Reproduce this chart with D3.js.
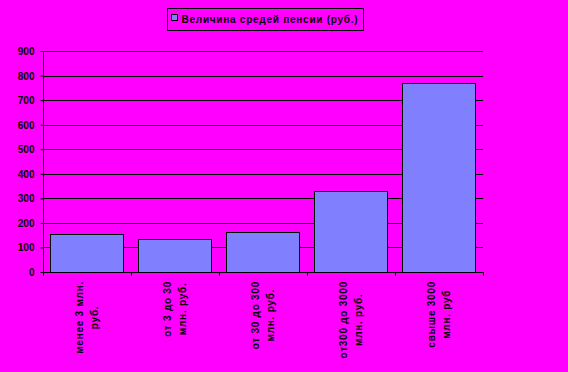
<!DOCTYPE html>
<html>
<head>
<meta charset="utf-8">
<script src="https://cdn.jsdelivr.net/npm/d3@7"></script>
<style>
  html, body { margin: 0; padding: 0; background: #ff00ff; }
  svg { display: block; }
  text { font-family: "Liberation Sans", Arial, sans-serif; font-size: 10px; font-weight: bold; fill: #000; }
  .wide { letter-spacing: 0.75px; }
</style>
</head>
<body>
<svg id="chart" width="568" height="372"></svg>
<script>
const categories = [
  ["менее 3 млн.", "руб."],
  ["от 3 до 30", "млн. руб."],
  ["от 30 до 300", "млн. руб."],
  ["от300 до 3000", "млн. руб."],
  ["свыше 3000", "млн. руб"]
];
const pensionValues = [154, 133, 162, 330, 770];
const yTicks = [0, 100, 200, 300, 400, 500, 600, 700, 800, 900];
const legendLabel = "Величина средей пенсии (руб.)";

const svg = d3.select("#chart");
const margin = { left: 43, right: 85, top: 51, bottom: 100 };
const width = 568, height = 372;
const plotW = width - margin.left - margin.right;
const plotH = height - margin.top - margin.bottom;

svg.append("rect").attr("width", width).attr("height", height).attr("fill", "#ff00ff");

const g = svg.append("g").attr("transform", `translate(${margin.left},${margin.top})`);

const xScale = d3.scaleBand()
  .domain(categories.map((d, i) => i))
  .range([0, plotW])
  .paddingInner(0.17)
  .paddingOuter(0.085);

const yScale = d3.scaleLinear().domain([0, 900]).range([plotH, 0]);

// gridlines
g.selectAll("line.grid")
  .data(yTicks.filter(d => d > 0))
  .join("line")
  .attr("class", "grid")
  .attr("x1", 0).attr("x2", plotW)
  .attr("y1", d => Math.round(yScale(d)) + 0.5)
  .attr("y2", d => Math.round(yScale(d)) + 0.5)
  .attr("stroke", "#000").attr("stroke-width", 1);

// bars
g.selectAll("rect.bar")
  .data(pensionValues)
  .join("rect")
  .attr("class", "bar")
  .attr("x", (d, i) => Math.round(xScale(i)) + 0.5)
  .attr("y", d => Math.round(yScale(d)) + 0.5)
  .attr("width", Math.round(xScale.bandwidth()))
  .attr("height", d => Math.round(plotH - yScale(d)))
  .attr("fill", "#8080ff")
  .attr("stroke", "#000").attr("stroke-width", 1);

// y axis
const yAxis = d3.axisLeft(yScale).tickValues(yTicks).tickSize(3).tickPadding(6);
const ya = g.append("g").attr("transform", "translate(0.5,0)").call(yAxis);
ya.select(".domain").attr("stroke", "#000").attr("d", `M0,${plotH}V0`);
ya.selectAll(".tick line").attr("stroke", "#000");
ya.selectAll(".tick text").attr("dy", "0.35em");
ya.attr("font-family", null).attr("font-size", null);

// x axis line + ticks at band boundaries
const step = xScale.step();
const boundaries = d3.range(categories.length + 1).map(i => i * step);
g.append("line")
  .attr("x1", 0).attr("x2", plotW)
  .attr("y1", plotH + 0.5).attr("y2", plotH + 0.5)
  .attr("stroke", "#000");
g.selectAll("line.xtick")
  .data(boundaries)
  .join("line")
  .attr("class", "xtick")
  .attr("x1", d => Math.round(d) + 0.5).attr("x2", d => Math.round(d) + 0.5)
  .attr("y1", plotH).attr("y2", plotH + 4)
  .attr("stroke", "#000");

// rotated category labels
const labelTop = plotH + 9;
categories.forEach((lines, i) => {
  const cx = xScale(i) + xScale.bandwidth() / 2;
  const lg = g.append("g").attr("transform", `translate(${cx},${labelTop}) rotate(-90)`);
  const texts = lines.map((t, j) => lg.append("text")
    .attr("class", "wide")
    .attr("text-anchor", "middle")
    .attr("dominant-baseline", "central")
    .attr("y", (j - (lines.length - 1) / 2) * 15)
    .text(t));
  const maxLen = d3.max(texts, t => t.node().getComputedTextLength());
  texts.forEach(t => t.attr("x", -maxLen / 2));
});

// legend
const legend = svg.append("g").attr("transform", "translate(167.5,8.5)");
legend.append("rect").attr("width", 196).attr("height", 22)
  .attr("fill", "#ff00ff").attr("stroke", "#000");
legend.append("rect").attr("x", 4).attr("y", 6).attr("width", 6).attr("height", 6)
  .attr("fill", "#8080ff").attr("stroke", "#000");
legend.append("text").attr("class", "wide").attr("x", 14).attr("y", 11).attr("dy", "0.35em").text(legendLabel);
</script>
</body>
</html>
